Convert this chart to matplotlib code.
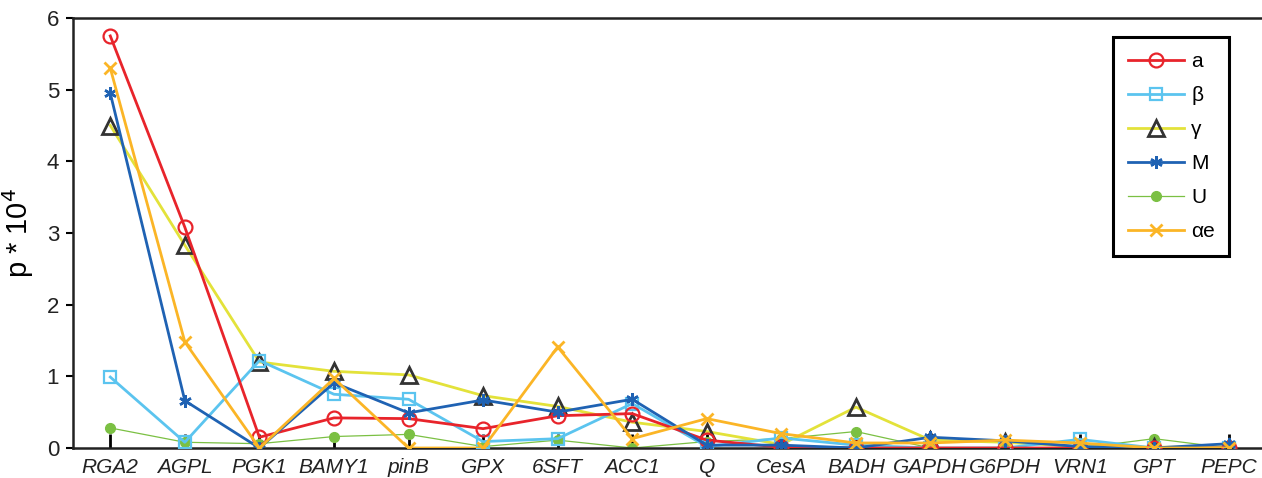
import matplotlib
matplotlib.use("Agg")
import matplotlib.pyplot as plt

GENES = ["RGA2", "AGPL", "PGK1", "BAMY1", "pinB", "GPX", "6SFT", "ACC1",
         "Q", "CesA", "BADH", "GAPDH", "G6PDH", "VRN1", "GPT", "PEPC"]

A_VALS = [5.75, 3.08, 0.15, 0.42, 0.41, 0.27, 0.45, 0.48,
          0.11, 0.01, 0.0, 0.0, 0.0, 0.0, 0.0, 0.0]
BETA_VALS = [0.99, 0.08, 1.22, 0.75, 0.68, 0.09, 0.13, 0.62,
             0.02, 0.14, 0.04, 0.0, 0.0, 0.12, 0.0, 0.0]
GAMMA_VALS = [4.50, 2.83, 1.20, 1.07, 1.02, 0.73, 0.58, 0.36,
              0.23, 0.05, 0.57, 0.11, 0.08, 0.02, 0.01, 0.02]
M_VALS = [4.95, 0.66, 0.0, 0.91, 0.49, 0.67, 0.50, 0.68,
          0.04, 0.04, 0.0, 0.15, 0.10, 0.02, 0.0, 0.06]
U_VALS = [0.28, 0.08, 0.06, 0.16, 0.19, 0.02, 0.11, 0.0,
          0.09, 0.13, 0.23, 0.0, 0.0, 0.0, 0.13, 0.0]
AE_VALS = [5.30, 1.48, 0.0, 0.97, 0.0, 0.0, 1.41, 0.13,
           0.41, 0.20, 0.07, 0.07, 0.11, 0.07, 0.0, 0.0]

plt.rcParams["font.family"] = ["Liberation Sans", "DejaVu Sans"]

fig = plt.figure(figsize=(12.62, 4.78), dpi=100)
ax = fig.add_axes([73 / 1262, 30 / 478, 1193 / 1262, 430 / 478])

x = list(range(1, len(GENES) + 1))

ax.plot(x, U_VALS, color="#7bc043", lw=0.9, marker="o", ms=7,
        mfc="#7bc043", mec="#7bc043", label="U", zorder=2)
ax.plot(x, GAMMA_VALS, color="#e3e23a", lw=2, marker="^", ms=11,
        mfc="none", mec="#333333", mew=2, label="γ", zorder=3)
ax.plot(x, BETA_VALS, color="#5bc4ef", lw=2, marker="s", ms=8,
        mfc="none", mec="#5bc4ef", mew=1.6, label="β", zorder=3)
ax.plot(x, A_VALS, color="#e8242b", lw=2, marker="o", ms=10,
        mfc="none", mec="#e8242b", mew=1.6, label="a", zorder=4)
ax.plot(x, M_VALS, color="#1f62b3", lw=2, marker=(6, 2, 0), ms=9,
        mfc="#1f62b3", mec="#1f62b3", mew=1.8, label="M", zorder=4)
ax.plot(x, AE_VALS, color="#fbb526", lw=2, marker="x", ms=8,
        mec="#fbb526", mew=2, label="αe", zorder=5)

ax.set_xlim(0.5, 16.5)
ax.set_ylim(0, 6)
ax.set_xticks(x)
ax.set_xticklabels(GENES, fontsize=15, style="italic", color="#222222")
ax.set_yticks(range(0, 7))
ax.tick_params(axis="y", labelsize=16, direction="out", length=5,
               width=1.5, labelcolor="#222222", pad=5)
ax.tick_params(axis="x", direction="in", length=10, width=2, pad=7)
ax.set_ylabel("p * 10$^4$", fontsize=21, labelpad=8)

for side in ("left", "top", "bottom"):
    ax.spines[side].set_linewidth(1.8)
    ax.spines[side].set_color("#222222")
ax.spines["right"].set_visible(False)

handles, labels = ax.get_legend_handles_labels()
order = ["a", "β", "γ", "M", "U", "αe"]
hmap = dict(zip(labels, handles))
leg = ax.legend([hmap[k] for k in order], order, loc="upper left",
                bbox_to_anchor=(1040 / 1193, 0.955), fontsize=15,
                handlelength=2.7, labelspacing=0.72, borderpad=0.7,
                handletextpad=0.35, fancybox=False, framealpha=1,
                edgecolor="black", borderaxespad=0)
leg.get_frame().set_linewidth(2.2)

fig.savefig("out.png", dpi=100)
